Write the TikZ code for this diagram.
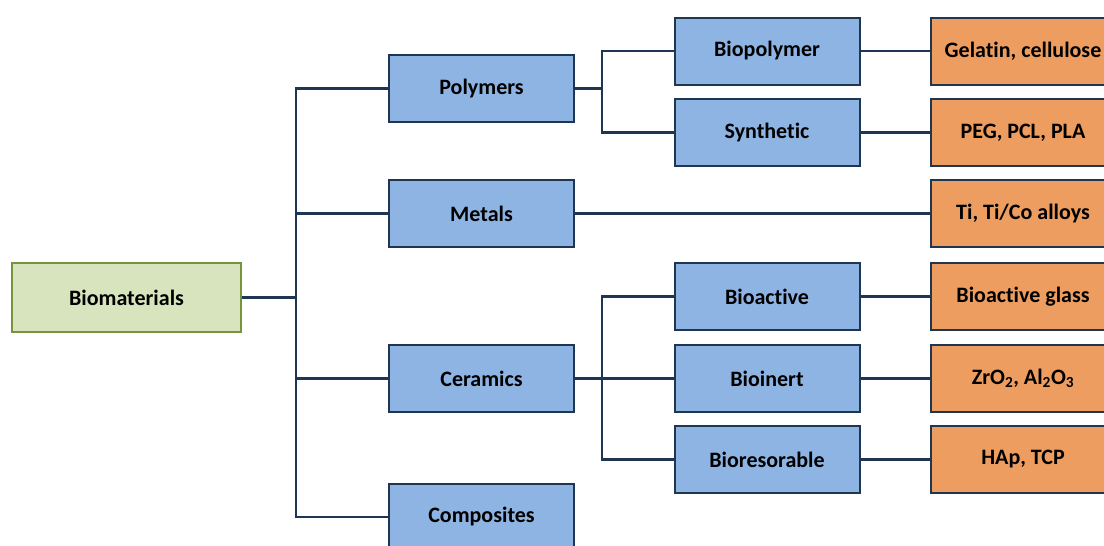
\documentclass[tikz,border=0pt]{standalone}
\usepackage{fontspec}
\setmainfont{Carlito}[Ligatures=NoCommon]
\usepackage{tikz}
\definecolor{rootgreen}{HTML}{D7E4BD}
\definecolor{rootborder}{HTML}{77933C}
\definecolor{classblue}{HTML}{8EB4E3}
\definecolor{examplorange}{HTML}{EC9D5F}
\definecolor{linenavy}{HTML}{1F3652}
\tikzstyle{root}=[draw=rootborder, fill=rootgreen, line width=2pt, minimum width=229pt, minimum height=69pt]
\tikzstyle{cls}=[draw=linenavy, fill=classblue, line width=2pt, minimum width=185pt, minimum height=67pt]
\tikzstyle{ex}=[draw=linenavy, fill=examplorange, line width=2pt, minimum width=184pt, minimum height=67pt]

\begin{document}
\begin{tikzpicture}[x=1pt, y=-1pt,
                    every node/.style={font=\fontsize{22}{26}\selectfont\bfseries},
                    link/.style={draw=linenavy, line width=2.8pt}]

    \path[use as bounding box, clip] (0,0) rectangle (1104,546);

    % root
    \node[root] (bio) at (126.5,297.5) {Biomaterials};
    % material classes
    \node[cls] (poly) at (481.5,88.5) {Polymers};
    \node[cls] (metal) at (481.5,213.5) {Metals};
    \node[cls] (cer) at (481.5,378.5) {Ceramics};
    \node[cls] (comp) at (481.5,517) {Composites};
    % sub classes
    \node[cls] (biopoly) at (767,51) {Biopolymer};
    \node[cls] (synth) at (767,132.5) {Synthetic};
    \node[cls] (bact) at (767,296.5) {Bioactive};
    \node[cls] (inert) at (767,378.5) {Bioinert};
    \node[cls] (resorb) at (767,459.5) {Bioresorable};
    % examples
    \node[ex] (gelatin) at (1023,51) {Gelatin, cellulose};
    \node[ex] (peg) at (1023,132.5) {PEG, PCL, PLA};
    \node[ex] (ti) at (1023,213.5) {Ti, Ti/Co alloys};
    \node[ex] (glass) at (1023,296.5) {Bioactive glass};
    \node[ex] (zro) at (1023,378.5) {ZrO\textsubscript{2}, Al\textsubscript{2}O\textsubscript{3}};
    \node[ex] (hap) at (1023,459.5) {HAp, TCP};

    % trunks
    \coordinate (trunk) at (296,297.5);
    \coordinate (ptrunk) at (602,88.5);
    \coordinate (ctrunk) at (602,378.5);

    % root -> classes
    \draw[link] (bio.east) -- (trunk);
    \draw[link] (poly.west) -| (trunk) |- (comp.west);
    \draw[link] (metal.west) -- (metal.west -| trunk);
    \draw[link] (cer.west) -- (cer.west -| trunk);

    % polymers -> sub classes
    \draw[link] (poly.east) -- (ptrunk);
    \draw[link] (biopoly.west) -| (ptrunk) |- (synth.west);

    % ceramics -> sub classes
    \draw[link] (cer.east) -- (inert.west);
    \draw[link] (bact.west) -| (ctrunk) |- (resorb.west);

    % sub classes -> examples
    \draw[link] (biopoly.east) -- (gelatin.west);
    \draw[link] (synth.east) -- (peg.west);
    \draw[link] (metal.east) -- (ti.west);
    \draw[link] (bact.east) -- (glass.west);
    \draw[link] (inert.east) -- (zro.west);
    \draw[link] (resorb.east) -- (hap.west);
\end{tikzpicture}
\end{document}
